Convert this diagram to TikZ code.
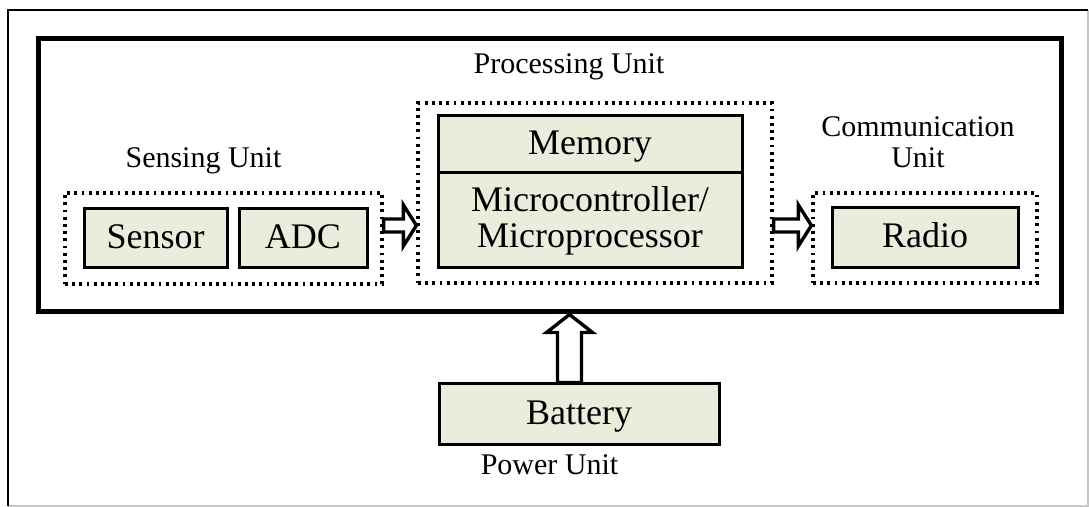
\documentclass[tikz,border=0pt]{standalone}
\usepackage{fontspec}
\setmainfont{Liberation Serif}
\usepackage{xcolor}
\usepackage{tikz}
\usetikzlibrary{calc}
\definecolor{boxgreen}{RGB}{232,237,220}

\tikzset{
  unitbox/.style={draw, fill=boxgreen, line width=1.5pt, inner sep=0pt,
    font=\fontsize{18}{18}\selectfont},
  onebox/.style={unitbox, text height=10pt, text depth=0pt},
  group/.style={draw, line width=1.6pt, dash pattern=on 1.4pt off 2.2pt, inner sep=0pt},
  unitname/.style={font=\fontsize{15}{15.5}\selectfont, inner sep=0pt},
  hollow/.style n args={3}{draw, line width=1.7pt, line join=miter,
    to path={let \p1=(\tikztostart), \p2=(\tikztotarget),
      \p3=($(\tikztotarget)!#3!(\tikztostart)$),
      \n1={atan2(\y2-\y1,\x2-\x1)} in
      ($(\p1)+(\n1+90:#1)$) -- ($(\p3)+(\n1+90:#1)$) -- ($(\p3)+(\n1+90:#2)$)
      -- (\p2) -- ($(\p3)+(\n1-90:#2)$) -- ($(\p3)+(\n1-90:#1)$)
      -- ($(\p1)+(\n1-90:#1)$) -- cycle}}
}

\begin{document}
\begin{tikzpicture}[x=0.5pt, y=-0.5pt]
  \useasboundingbox (0,0) rectangle (1089,507);
  % ---- page frame ----
  \draw[gray!45, line width=0.8pt] (8,506) -| (1088,10);
  \draw[line width=0.8pt] (8,506) |- (1088,10);
  % ---- sensor node ----
  \node (wsn) [draw, line width=2.5pt, inner sep=0pt, minimum width=511.5pt,
    minimum height=136.5pt] at (549.5,175.5) {};
  \coordinate (flow) at (0,225.5);
  \coordinate (feed) at (569.5,0);
  % ---- Sensing unit ----
  \node (sensing) [group, minimum width=158.5pt, minimum height=45.5pt] at (223.5,238.5) {};
  \node (sensor) [onebox, minimum width=71.5pt, minimum height=29.5pt] at (155.5,238.5) {Sensor};
  \node (adc) [onebox, minimum width=64pt, minimum height=29.5pt] at (303,238.5) {ADC};
  \node (sensinglbl) [unitname, anchor=base] at (203.5,168) {Sensing Unit};
  % ---- Processing unit ----
  \node (processing) [group, minimum width=177pt, minimum height=90pt] at (595,193) {};
  \node (memory) [onebox, minimum width=152pt, minimum height=28.5pt] at (590,144.5) {Memory};
  \node (mcu) [unitbox, align=center, minimum width=152pt, minimum height=47.5pt]
    at (590,220.5) {Microcontroller/\\Microprocessor};
  \node (processinglbl) [unitname, anchor=base] at (569,74) {Processing Unit};
  % ---- Communication unit ----
  \node (comm) [group, minimum width=112pt, minimum height=45pt] at (925,238) {};
  \node (radio) [onebox, minimum width=93pt, minimum height=30pt] at (925,238) {Radio};
  \node (commlbl) [unitname, align=center] at (918,142) {Communication\\Unit};
  % ---- Power unit ----
  \node (battery) [onebox, minimum width=140pt, minimum height=30.5pt] at (579,414.5) {Battery};
  \node (powerlbl) [unitname, anchor=base] at (549.5,475) {Power Unit};
  % ---- block arrows ----
  \draw[hollow={3.25pt}{10.25pt}{6.5pt}] (sensing.east |- flow) to (processing.west |- flow);
  \draw[hollow={3.25pt}{10.25pt}{6.5pt}] (processing.east |- flow) to (comm.west |- flow);
  \draw[hollow={6pt}{11.5pt}{9pt}] (feed |- battery.north) to (feed |- wsn.south);
\end{tikzpicture}
\end{document}
